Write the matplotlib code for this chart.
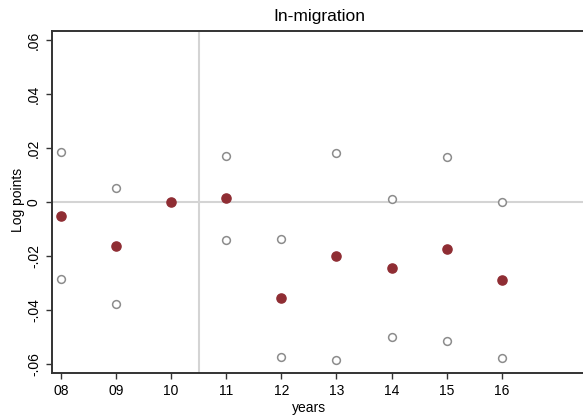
import matplotlib
matplotlib.use("Agg")
import matplotlib.pyplot as plt

# Event-study estimates for in-migration, with upper and lower confidence bounds
years = [8, 9, 10, 11, 12, 13, 14, 15, 16]
year_labels = ["08", "09", "10", "11", "12", "13", "14", "15", "16"]
estimate = [-0.0051, -0.0163, 0.0, 0.0015, -0.0355, -0.0202, -0.0245, -0.0174, -0.0289]
upper = [0.0187, 0.0053, None, 0.0170, -0.0138, 0.0183, 0.0010, 0.0167, 0.0001]
lower = [-0.0286, -0.0380, None, -0.0140, -0.0574, -0.0586, -0.0500, -0.0516, -0.0580]
y_ticks = [-0.06, -0.04, -0.02, 0.0, 0.02, 0.04, 0.06]
y_tick_labels = ["-.06", "-.04", "-.02", "0", ".02", ".04", ".06"]

plt.rcParams["font.family"] = ["Liberation Sans", "DejaVu Sans"]

W, H = 583, 418
fig = plt.figure(figsize=(W / 100, H / 100), dpi=100)
left, right, top, bottom = 52, 600, 31, 373
ax = fig.add_axes([left / W, (H - bottom) / H, (right - left) / W, (bottom - top) / H])
ax.set_clip_on(False)

ax.set_xlim(7.837, 7.837 + (right - left) / 55.1)
ax.set_ylim(-0.0635, 0.0635)

ax.axhline(0, color="#d4d4d4", lw=1.5, zorder=1)
ax.axvline(10.5, color="#d4d4d4", lw=1.5, zorder=1)

ci_x = [x for x, u in zip(years, upper) if u is not None]
ci_u = [u for u in upper if u is not None]
ci_l = [l for l in lower if l is not None]
ax.plot(ci_x, ci_u, "o", ms=5.6, mfc="white", mec="#8c8c8c", mew=1.1, ls="none", zorder=3)
ax.plot(ci_x, ci_l, "o", ms=5.6, mfc="white", mec="#8c8c8c", mew=1.1, ls="none", zorder=3)
ax.plot(years, estimate, "o", ms=6.6, color="#8f2d33", mec="#8f2d33", ls="none", zorder=4)

ax.set_xticks(years)
ax.set_xticklabels(year_labels, fontsize=10)
ax.set_yticks(y_ticks)
ax.set_yticklabels(y_tick_labels, fontsize=10, rotation=90, va="center")
ax.tick_params(axis="both", direction="out", length=4, width=1, color="#333333", pad=4)

for side in ["left", "bottom", "top"]:
    ax.spines[side].set_color("#333333")
    ax.spines[side].set_linewidth(1.4)
ax.spines["right"].set_visible(False)

fig.text(319 / W, 1 - 17 / H, "In-migration", ha="center", va="center", fontsize=12.5)
fig.text(309 / W, 1 - 408 / H, "years", ha="center", va="center", fontsize=10)
fig.text(18 / W, 1 - 200 / H, "Log points", ha="center", va="center", rotation=90, fontsize=10)

fig.savefig("out.png", dpi=100)
